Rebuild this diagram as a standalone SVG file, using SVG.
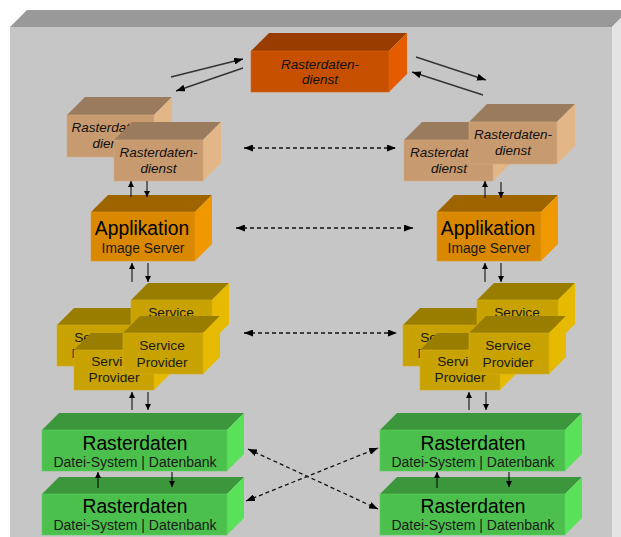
<svg xmlns="http://www.w3.org/2000/svg" width="621" height="537" viewBox="0 0 621 537">
  <defs>
    <style>
      .f{stroke-width:0.6}
      .or .f{fill:#c65000;stroke:#d86410}.or .t{fill:#983c00}.or .s{fill:#e55c00}
      .tan .f{fill:#c89a70;stroke:#d4aa80}.tan .t{fill:#9b7b5e}.tan .s{fill:#e2b687}
      .app .f{fill:#d98800;stroke:#e39a20}.app .t{fill:#9e6400}.app .s{fill:#f09800}
      .sp .f{fill:#c8a200;stroke:#d4b020}.sp .t{fill:#997d00}.sp .s{fill:#e6ba00}
      .gr .f{fill:#4cc04c;stroke:#60cc60}.gr .t{fill:#3c963c}.gr .s{fill:#5ae15a}
      text{font-family:"Liberation Sans",Arial,sans-serif;fill:#000;text-anchor:middle}
      .it{font-style:italic;font-size:13.5px;fill:#111}
      .big{font-size:19.3px}
      .sub{font-size:13.8px;fill:#1a1a1a}
      .spt{font-size:13.7px;fill:#1a1a1a}
      .db{font-size:14px;fill:#1a1a1a}
      .v{stroke:#000;stroke-width:1;fill:none;marker-end:url(#sm)}
      .ta{stroke:#333;stroke-width:1.4;fill:none;marker-end:url(#md)}
      .da{stroke:#111;stroke-width:1.3;stroke-dasharray:4 3;fill:none;marker-start:url(#md);marker-end:url(#md)}
    </style>
    <marker id="sm" viewBox="0 0 6 6" refX="6" refY="3" markerWidth="6" markerHeight="6" markerUnits="userSpaceOnUse" orient="auto-start-reverse">
      <path d="M0,0 L6,3 L0,6 z" fill="#000"/>
    </marker>
    <marker id="md" viewBox="0 0 9 7" refX="9" refY="3.5" markerWidth="9" markerHeight="7" markerUnits="userSpaceOnUse" orient="auto-start-reverse">
      <path d="M0,0 L9,3.5 L0,7 z" fill="#000"/>
    </marker>
  </defs>

  <rect width="621" height="537" fill="#fff"/>

  <!-- backdrop slab -->
  <g id="panel">
    <polygon points="10,27 27,10 629,10 612,27" fill="#999"/>
    <polygon points="612,27 629,10 629,537 612,537" fill="#e4e4e4"/>
    <rect x="10" y="27" width="602" height="510" fill="#c6c6c6"/>
  </g>

  <!-- top service -->
  <g id="dienst-top" class="or" transform="translate(251,51)">
    <polygon class="t" points="0,0 18,-18 156,-18 138,0"/>
    <polygon class="s" points="138,0 156,-18 156,23 138,41"/>
    <rect class="f" width="138" height="41"/>
    <text class="it" x="69" y="18">Rasterdaten-</text>
    <text class="it" x="69" y="33">dienst</text>
  </g>

  <!-- left column -->
  <g id="dienst-l1" class="tan" transform="translate(67,115)">
    <polygon class="t" points="0,0 18,-18 105,-18 87,0"/>
    <polygon class="s" points="87,0 105,-18 105,24 87,42"/>
    <rect class="f" width="87" height="42"/>
    <text class="it" x="43.5" y="17">Rasterdaten-</text>
    <text class="it" x="43.5" y="33">dienst</text>
  </g>
  <g id="dienst-l2" class="tan" transform="translate(114,140)">
    <polygon class="t" points="0,0 18,-18 107,-18 89,0"/>
    <polygon class="s" points="89,0 107,-18 107,23 89,41"/>
    <rect class="f" width="89" height="41"/>
    <text class="it" x="44.5" y="17">Rasterdaten-</text>
    <text class="it" x="44.5" y="33">dienst</text>
  </g>
  <g id="app-l" class="app" transform="translate(91,212)">
    <polygon class="t" points="0,0 17,-17 121,-17 104,0"/>
    <polygon class="s" points="104,0 121,-17 121,32 104,49"/>
    <rect class="f" width="104" height="49"/>
    <text class="big" x="51" y="23">Applikation</text>
    <text class="sub" x="52" y="41">Image Server</text>
  </g>
  <g id="sp-l-b" class="sp" transform="translate(57,325)">
    <polygon class="t" points="0,0 17,-17 97,-17 80,0"/>
    <polygon class="s" points="80,0 97,-17 97,24 80,41"/>
    <rect class="f" width="80" height="41"/>
    <text class="spt" x="40" y="17">Service</text>
    <text class="spt" x="40" y="33">Provider</text>
  </g>
  <g id="sp-l-a" class="sp" transform="translate(131,300)">
    <polygon class="t" points="0,0 17,-17 98,-17 81,0"/>
    <polygon class="s" points="81,0 98,-17 98,24 81,41"/>
    <rect class="f" width="81" height="41"/>
    <text class="spt" x="40" y="17">Service</text>
    <text class="spt" x="40" y="33">Provider</text>
  </g>
  <g id="sp-l-c" class="sp" transform="translate(74,350)">
    <polygon class="t" points="0,0 17,-17 97,-17 80,0"/>
    <polygon class="s" points="80,0 97,-17 97,23 80,40"/>
    <rect class="f" width="80" height="40"/>
    <text class="spt" x="40" y="16">Service</text>
    <text class="spt" x="40" y="32">Provider</text>
  </g>
  <g id="sp-l-d" class="sp" transform="translate(123,333)">
    <polygon class="t" points="0,0 17,-17 97,-17 80,0"/>
    <polygon class="s" points="80,0 97,-17 97,24 80,41"/>
    <rect class="f" width="80" height="41"/>
    <text class="spt" x="39" y="17">Service</text>
    <text class="spt" x="39" y="34">Provider</text>
  </g>
  <g id="raster-l1" class="gr" transform="translate(42,430)">
    <polygon class="t" points="0,0 17,-17 202,-17 185,0"/>
    <polygon class="s" points="185,0 202,-17 202,24 185,41"/>
    <rect class="f" width="185" height="41"/>
    <text class="big" x="93" y="20">Rasterdaten</text>
    <text class="db" x="93" y="37">Datei-System | Datenbank</text>
  </g>
  <g id="raster-l2" class="gr" transform="translate(42,494)">
    <polygon class="t" points="0,0 17,-17 202,-17 185,0"/>
    <polygon class="s" points="185,0 202,-17 202,24 185,41"/>
    <rect class="f" width="185" height="41"/>
    <text class="big" x="93" y="19">Rasterdaten</text>
    <text class="db" x="93" y="36">Datei-System | Datenbank</text>
  </g>

  <!-- right column -->
  <g id="dienst-r1" class="tan" transform="translate(404,140)">
    <polygon class="t" points="0,0 18,-18 107,-18 89,0"/>
    <polygon class="s" points="89,0 107,-18 107,23 89,41"/>
    <rect class="f" width="89" height="41"/>
    <text class="it" x="45" y="17">Rasterdaten-</text>
    <text class="it" x="45" y="33">dienst</text>
  </g>
  <g id="dienst-r2" class="tan" transform="translate(469,122)">
    <polygon class="t" points="0,0 18,-18 106,-18 88,0"/>
    <polygon class="s" points="88,0 106,-18 106,24 88,42"/>
    <rect class="f" width="88" height="42"/>
    <text class="it" x="44" y="17">Rasterdaten-</text>
    <text class="it" x="44" y="33">dienst</text>
  </g>
  <g id="app-r" class="app" transform="translate(437,212)">
    <polygon class="t" points="0,0 17,-17 121,-17 104,0"/>
    <polygon class="s" points="104,0 121,-17 121,32 104,49"/>
    <rect class="f" width="104" height="49"/>
    <text class="big" x="51" y="23">Applikation</text>
    <text class="sub" x="52" y="41">Image Server</text>
  </g>
  <g id="sp-r-b" class="sp" transform="translate(403,325)">
    <polygon class="t" points="0,0 17,-17 97,-17 80,0"/>
    <polygon class="s" points="80,0 97,-17 97,24 80,41"/>
    <rect class="f" width="80" height="41"/>
    <text class="spt" x="40" y="17">Service</text>
    <text class="spt" x="40" y="33">Provider</text>
  </g>
  <g id="sp-r-a" class="sp" transform="translate(477,300)">
    <polygon class="t" points="0,0 17,-17 98,-17 81,0"/>
    <polygon class="s" points="81,0 98,-17 98,24 81,41"/>
    <rect class="f" width="81" height="41"/>
    <text class="spt" x="40" y="17">Service</text>
    <text class="spt" x="40" y="33">Provider</text>
  </g>
  <g id="sp-r-c" class="sp" transform="translate(420,350)">
    <polygon class="t" points="0,0 17,-17 97,-17 80,0"/>
    <polygon class="s" points="80,0 97,-17 97,23 80,40"/>
    <rect class="f" width="80" height="40"/>
    <text class="spt" x="40" y="16">Service</text>
    <text class="spt" x="40" y="32">Provider</text>
  </g>
  <g id="sp-r-d" class="sp" transform="translate(469,333)">
    <polygon class="t" points="0,0 17,-17 97,-17 80,0"/>
    <polygon class="s" points="80,0 97,-17 97,24 80,41"/>
    <rect class="f" width="80" height="41"/>
    <text class="spt" x="39" y="17">Service</text>
    <text class="spt" x="39" y="34">Provider</text>
  </g>
  <g id="raster-r1" class="gr" transform="translate(380,430)">
    <polygon class="t" points="0,0 17,-17 202,-17 185,0"/>
    <polygon class="s" points="185,0 202,-17 202,24 185,41"/>
    <rect class="f" width="185" height="41"/>
    <text class="big" x="93" y="20">Rasterdaten</text>
    <text class="db" x="93" y="37">Datei-System | Datenbank</text>
  </g>
  <g id="raster-r2" class="gr" transform="translate(380,494)">
    <polygon class="t" points="0,0 17,-17 202,-17 185,0"/>
    <polygon class="s" points="185,0 202,-17 202,24 185,41"/>
    <rect class="f" width="185" height="41"/>
    <text class="big" x="93" y="19">Rasterdaten</text>
    <text class="db" x="93" y="36">Datei-System | Datenbank</text>
  </g>

  <!-- connectors -->
  <g id="connectors">
    <!-- to and from the top service -->
    <path class="ta" d="M171,77 L243,59"/>
    <path class="ta" d="M243,68 L176,91"/>
    <path class="ta" d="M416,57 L486,80"/>
    <path class="ta" d="M483,95 L412,72"/>

    <!-- peer links between the columns -->
    <path class="da" d="M244,148 H396"/>
    <path class="da" d="M236,228 H413"/>
    <path class="da" d="M244,333 H397"/>
    <path class="da" d="M248,449 L378,509"/>
    <path class="da" d="M246,501 L378,448"/>

    <!-- left column, vertical -->
    <path class="v" d="M131,197 V181"/>
    <path class="v" d="M147,181 V197"/>
    <path class="v" d="M132,282 V263"/>
    <path class="v" d="M148,263 V282"/>
    <path class="v" d="M132,410 V392"/>
    <path class="v" d="M148,392 V410"/>
    <path class="v" d="M98,488 V472"/>
    <path class="v" d="M172,472 V487"/>

    <!-- right column, vertical -->
    <path class="v" d="M485,198 V181"/>
    <path class="v" d="M501,182 V198"/>
    <path class="v" d="M485,282 V263"/>
    <path class="v" d="M501,263 V282"/>
    <path class="v" d="M469,410 V392"/>
    <path class="v" d="M486,392 V410"/>
    <path class="v" d="M437,488 V472"/>
    <path class="v" d="M509,472 V487"/>
  </g>
</svg>
